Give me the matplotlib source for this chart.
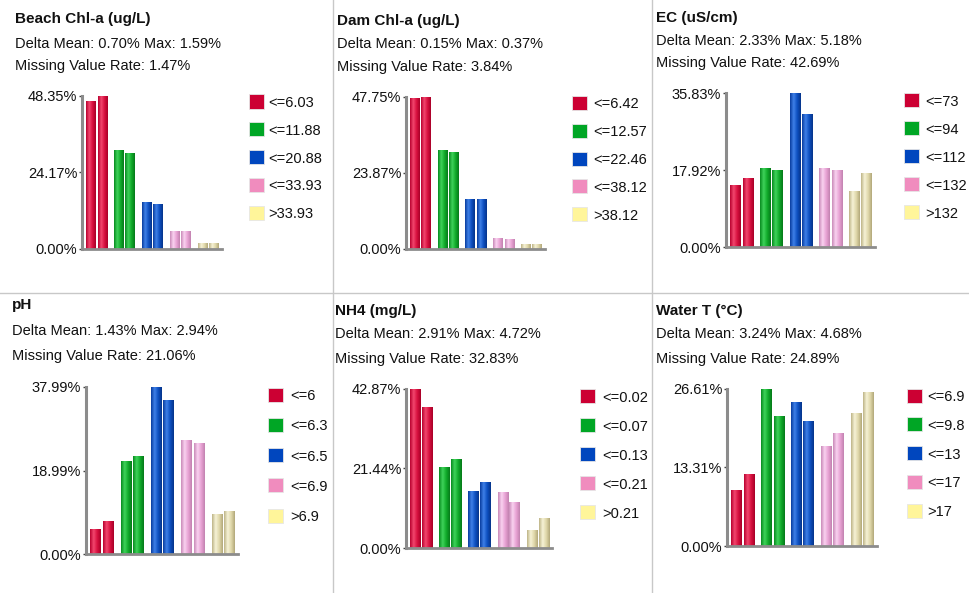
import numpy as np
import matplotlib.pyplot as plt
from matplotlib.colors import LinearSegmentedColormap
from matplotlib.patches import Rectangle
from matplotlib.lines import Line2D

plt.rcParams['font.family'] = ['Liberation Sans', 'DejaVu Sans']

W, H = 969, 593

titles = ['Beach Chl-a (ug/L)', 'Dam Chl-a (ug/L)', 'EC (uS/cm)',
          'pH', 'NH4 (mg/L)', 'Water T (\u00b0C)']
delta_mean = [0.70, 0.15, 2.33, 1.43, 2.91, 3.24]
delta_max = [1.59, 0.37, 5.18, 2.94, 4.72, 4.68]
missing_rate = [1.47, 3.84, 42.69, 21.06, 32.83, 24.89]

y_max = [48.35, 47.75, 35.83, 37.99, 42.87, 26.61]
y_mid = [24.17, 23.87, 17.92, 18.99, 21.44, 13.31]

bins = [
    ['<=6.03', '<=11.88', '<=20.88', '<=33.93', '>33.93'],
    ['<=6.42', '<=12.57', '<=22.46', '<=38.12', '>38.12'],
    ['<=73', '<=94', '<=112', '<=132', '>132'],
    ['<=6', '<=6.3', '<=6.5', '<=6.9', '>6.9'],
    ['<=0.02', '<=0.07', '<=0.13', '<=0.21', '>0.21'],
    ['<=6.9', '<=9.8', '<=13', '<=17', '>17'],
]

# two bars per bin (percent of records)
beach_1 = [46.7, 31.0, 14.6, 5.4, 1.8]
beach_2 = [48.35, 30.1, 14.2, 5.4, 1.8]
dam_1 = [47.4, 30.8, 15.5, 3.35, 1.5]
dam_2 = [47.75, 30.4, 15.5, 2.85, 1.5]
ec_1 = [14.4, 18.3, 35.83, 18.3, 12.8]
ec_2 = [16.05, 17.9, 30.8, 17.9, 17.05]
ph_1 = [5.6, 21.15, 37.99, 25.9, 9.0]
ph_2 = [7.3, 22.15, 34.95, 25.25, 9.6]
nh4_1 = [42.87, 21.5, 15.3, 14.85, 4.75]
nh4_2 = [37.85, 23.8, 17.6, 12.1, 7.9]
wt_1 = [9.45, 26.61, 24.25, 16.8, 22.4]
wt_2 = [12.15, 21.85, 20.95, 18.95, 25.95]

series = [(beach_1, beach_2), (dam_1, dam_2), (ec_1, ec_2),
          (ph_1, ph_2), (nh4_1, nh4_2), (wt_1, wt_2)]

# pixel layout of each panel: text x, text baselines, axes box, legend
frames = [
    dict(tx=15, ty=(23.5, 48, 70), ax=(82, 222, 95.7, 248.7), sq=249, lt=268, ly=(101.5, 27.8)),
    dict(tx=337, ty=(25.5, 48.5, 71), ax=(406, 545, 96.7, 248.7), sq=572, lt=593, ly=(103, 27.8)),
    dict(tx=656, ty=(22, 45, 67), ax=(726, 875, 93.3, 247.3), sq=904, lt=925, ly=(100, 28)),
    dict(tx=12, ty=(309.5, 335, 360), ax=(86, 238, 387, 554), sq=268, lt=290, ly=(394.5, 30.3)),
    dict(tx=335, ty=(314.5, 338, 362.5), ax=(406, 552, 388.7, 548.3), sq=580, lt=602, ly=(396, 29.1)),
    dict(tx=656, ty=(314.5, 338, 362.5), ax=(727, 877, 388.7, 546.3), sq=907, lt=927, ly=(395.5, 28.8)),
]

legend_colors = ['#CC0033', '#00A625', '#0046BE', '#F08CBE', '#FFF59A']
bar_shades = [
    ('#B8002E', '#F2476E', '#D8103F', '#A80028'),
    ('#078A1F', '#3FD35A', '#10AA2A', '#067A1A'),
    ('#083C9E', '#3F80E8', '#0D4FC0', '#06348A'),
    ('#C98AB8', '#FAD2F0', '#E8A2D4', '#C282B0'),
    ('#BDB487', '#F6F2D6', '#E0D8AA', '#B2A87A'),
]
cmaps = [LinearSegmentedColormap.from_list('c%d' % i, [s[0], s[1], s[2], s[3]])
         for i, s in enumerate(bar_shades)]
grad = np.linspace(0, 1, 64).reshape(1, -1)


def fx(x):
    return x / W


def fy(y):
    return 1 - y / H


fig = plt.figure(figsize=(W / 100, H / 100), dpi=100)

for p in range(6):
    f = frames[p]
    fig.text(fx(f['tx']), fy(f['ty'][0]), titles[p], fontsize=11,
             fontweight='bold', va='baseline', color='#111111')
    fig.text(fx(f['tx']), fy(f['ty'][1]),
             'Delta Mean: %.2f%% Max: %.2f%%' % (delta_mean[p], delta_max[p]),
             fontsize=10.5, va='baseline', color='#111111')
    fig.text(fx(f['tx']), fy(f['ty'][2]),
             'Missing Value Rate: %.2f%%' % missing_rate[p],
             fontsize=10.5, va='baseline', color='#111111')

    x0, x1, ytop, y0 = f['ax']
    ax = fig.add_axes([fx(x0), fy(y0), (x1 - x0) / W, (y0 - ytop) / H])
    x = np.arange(5)
    a, b = series[p]
    bars_a = ax.bar(x - 0.205, a, width=0.355, color=legend_colors, zorder=2)
    bars_b = ax.bar(x + 0.205, b, width=0.355, color=legend_colors, zorder=2)
    for bars in (bars_a, bars_b):
        for i, r in enumerate(bars):
            ax.imshow(grad, extent=(r.get_x(), r.get_x() + r.get_width(), 0, r.get_height()),
                      cmap=cmaps[i], aspect='auto', zorder=2.1, interpolation='bilinear')
    ax.set_xlim(-0.53, 4.49)
    ax.set_ylim(0, y_max[p])
    ax.set_xticks([])
    ax.set_yticks([0, y_mid[p], y_max[p]])
    ax.set_yticklabels(['0.00%', '%.2f%%' % y_mid[p], '%.2f%%' % y_max[p]])
    ax.tick_params(axis='y', length=2, width=1, color='#444444', pad=1.5,
                   labelsize=10.5, labelcolor='#111111')
    for s in ('top', 'right'):
        ax.spines[s].set_visible(False)
    ax.spines['left'].set_color('#8c8c8c')
    ax.spines['left'].set_linewidth(2.2)
    ax.spines['bottom'].set_color('#8c8c8c')
    ax.spines['bottom'].set_linewidth(2.0)
    ax.patch.set_alpha(0)

    ys, step = f['ly']
    for i in range(5):
        yc = ys + i * step
        fig.add_artist(Rectangle((fx(f['sq']), fy(yc + 7)), 15 / W, 14 / H,
                                 transform=fig.transFigure, facecolor=legend_colors[i],
                                 edgecolor='#e6e6e6', linewidth=0.6))
        fig.text(fx(f['lt']), fy(yc + 1.5), bins[p][i], fontsize=10.5,
                 va='center', color='#111111')

# panel dividers
for xv in (332.5, 652):
    fig.add_artist(Line2D([fx(xv)] * 2, [0, 1], color='#c8c8c8', linewidth=1))
fig.add_artist(Line2D([0, 1], [fy(293)] * 2, color='#c8c8c8', linewidth=1))

fig.savefig('out.png', dpi=100)
